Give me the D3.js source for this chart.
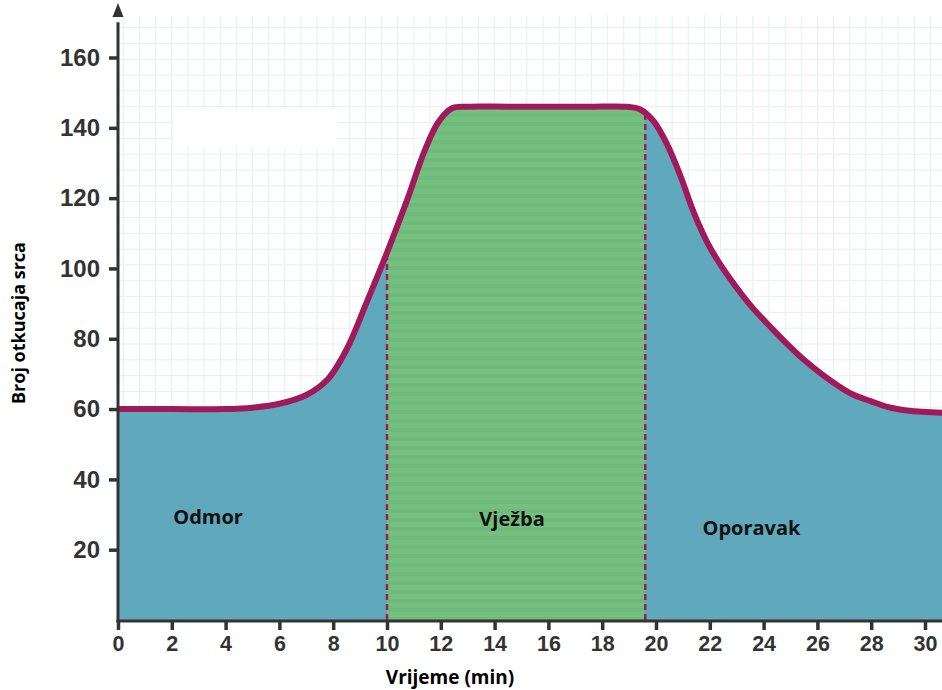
<!DOCTYPE html>
<html>
<head>
<meta charset="utf-8">
<script src="https://cdn.jsdelivr.net/npm/d3@7"></script>
<style>
  body { margin: 0; background: #fff; }
  svg text { font-family: "Liberation Sans", Arial, sans-serif; }
</style>
</head>
<body>
<div id="chart"></div>
<script>
// heart rate curve (minutes, beats per minute)
var time = [0, 2, 4, 5, 6, 7, 7.8, 8.5, 9.25, 10, 10.75, 11.4, 11.9, 12.4, 13, 14.5, 16, 17.5, 18.9, 19.4, 19.9, 20.4, 20.9, 21.4, 21.9, 22.4, 23.0, 23.6, 24.3, 24.9, 25.5, 26.1, 26.7, 27.3, 28.0, 28.6, 29.4, 30.7];
var bpm  = [60, 60, 60, 60.4, 61.5, 64, 68.5, 77, 90.5, 104.5, 119.5, 133.5, 141.5, 145.5, 146, 146, 146, 146, 146, 145.3, 142, 135.5, 126.5, 116, 107.5, 101, 94.5, 88.7, 83, 78.3, 74, 70.3, 67, 64.2, 62.2, 60.6, 59.5, 58.9];

// phases
var phaseEdges = [0, 10, 19.6, 30.7];
var phaseNames = ["Odmor", "Vježba", "Oporavak"];
var phaseLabelX = [3.35, 14.65, 23.55];
var phaseLabelY = [29.3, 28.7, 26.2];

var xTicks = d3.range(0, 31, 2);
var yTicks = d3.range(20, 161, 20);

var fullWidth = 942, fullHeight = 690;

var svg = d3.select("#chart")
            .append("svg")
            .attr("width", fullWidth)
            .attr("height", fullHeight);

var x = d3.scaleLinear().domain([0, 30]).range([118, 925]);
var y = d3.scaleLinear().domain([0, 160]).range([620, 57.5]);

var data = time.map(function(t, i) { return {t: t, v: bpm[i]}; });

var defs = svg.append("defs");

// faint stripes on the exercise block
var stripes = defs.append("pattern")
    .attr("id", "stripes")
    .attr("patternUnits", "userSpaceOnUse")
    .attr("width", 10).attr("height", 9);
stripes.append("rect").attr("width", 10).attr("height", 9).attr("fill", "#75c081");
stripes.append("rect").attr("y", 5).attr("width", 10).attr("height", 4).attr("fill", "#6fbb7b");

// background grid
var gridX = d3.range(0.2, 30.8, 0.6);
var gridY = d3.range(2, 172, 4.5);
var grid = svg.append("g").attr("class", "grid")
    .attr("stroke", "#e6eff2").attr("stroke-width", 1);
grid.selectAll("line.gx").data(gridX).enter().append("line")
    .attr("x1", function(d) { return x(d); }).attr("x2", function(d) { return x(d); })
    .attr("y1", y(172)).attr("y2", y(0));
grid.selectAll("line.gy").data(gridY).enter().append("line")
    .attr("x1", x(0)).attr("x2", fullWidth)
    .attr("y1", function(d) { return y(d); }).attr("y2", function(d) { return y(d); });

// erased label box
svg.append("rect")
    .attr("x", x(2.05)).attr("y", y(145.3))
    .attr("width", x(8.15) - x(2.05)).attr("height", y(134.5) - y(145.3))
    .attr("fill", "#fff");

var area = d3.area()
    .x(function(d) { return x(d.t); })
    .y0(y(0))
    .y1(function(d) { return y(d.v); })
    .curve(d3.curveCatmullRom.alpha(0.5));

var line = d3.line()
    .x(function(d) { return x(d.t); })
    .y(function(d) { return y(d.v); })
    .curve(d3.curveCatmullRom.alpha(0.5));

defs.append("clipPath").attr("id", "under")
    .append("path").attr("d", area(data));

defs.append("clipPath").attr("id", "exercise")
    .append("rect")
    .attr("x", x(phaseEdges[1])).attr("y", 0)
    .attr("width", x(phaseEdges[2]) - x(phaseEdges[1]))
    .attr("height", fullHeight);

svg.append("path")
    .attr("d", area(data))
    .attr("fill", "#60a8bb");

svg.append("path")
    .attr("d", area(data))
    .attr("clip-path", "url(#exercise)")
    .attr("fill", "url(#stripes)");

// dashed phase borders
svg.append("g").attr("clip-path", "url(#under)")
    .selectAll("line")
    .data(phaseEdges.slice(1, 3))
    .enter().append("line")
    .attr("x1", function(d) { return x(d); })
    .attr("x2", function(d) { return x(d); })
    .attr("y1", y(0)).attr("y2", y(170))
    .attr("stroke", "#9e1a5a")
    .attr("stroke-width", 2.5)
    .attr("stroke-dasharray", "6,4");

svg.append("path")
    .attr("d", line(data))
    .attr("fill", "none")
    .attr("stroke", "#a2195b")
    .attr("stroke-width", 6)
    .attr("stroke-linejoin", "round");

// phase labels
svg.append("g").selectAll("text")
    .data(phaseNames)
    .enter().append("text")
    .attr("x", function(d, i) { return x(phaseLabelX[i]); })
    .attr("y", function(d, i) { return y(phaseLabelY[i]); })
    .attr("text-anchor", "middle")
    .attr("dy", "0.35em")
    .style("font-family", "'Open Sans', sans-serif")
    .style("font-weight", "bold")
    .style("font-size", "20px")
    .attr("fill", "#111")
    .text(function(d) { return d; });

// axes
var xAxis = d3.axisBottom(x).tickValues(xTicks).tickSize(9).tickPadding(6);
var yAxis = d3.axisLeft(y).tickValues(yTicks).tickSize(9).tickPadding(9);

var gx = svg.append("g")
    .attr("class", "x-axis")
    .attr("transform", "translate(0," + (y(0) + 1) + ")")
    .call(xAxis);
gx.select(".domain").remove();
gx.append("line")
    .attr("x1", x(0) - 1.5).attr("x2", fullWidth)
    .attr("stroke", "#333").attr("stroke-width", 3);

var gy = svg.append("g")
    .attr("class", "y-axis")
    .attr("transform", "translate(" + x(0) + ",0)")
    .call(yAxis);
gy.select(".domain").remove();
gy.append("line")
    .attr("y1", y(0) + 2.5).attr("y2", y(170))
    .attr("stroke", "#333").attr("stroke-width", 3);
gy.append("path")
    .attr("d", "M0," + (y(175.5)) + "L-5.5," + (y(171.5)) + "L5.5," + (y(171.5)) + "Z")
    .attr("fill", "#333");

svg.selectAll(".tick line").attr("stroke", "#333").attr("stroke-width", 3.5);
gx.selectAll(".tick text")
    .attr("fill", "#333")
    .style("font-size", "21.5px")
    .style("font-weight", "bold");
gy.selectAll(".tick text")
    .attr("fill", "#333")
    .style("font-size", "24px")
    .style("font-weight", "bold");

svg.append("text")
    .attr("transform", "translate(25," + 323 + ") rotate(-90)")
    .attr("text-anchor", "middle")
    .style("font-family", "'Open Sans', sans-serif")
    .style("font-weight", "bold")
    .style("font-size", "18px")
    .attr("fill", "#000")
    .text("Broj otkucaja srca");

svg.append("text")
    .attr("x", 450)
    .attr("y", 684)
    .attr("text-anchor", "middle")
    .style("font-family", "'Open Sans', sans-serif")
    .style("font-weight", "bold")
    .style("font-size", "19px")
    .attr("fill", "#000")
    .text("Vrijeme (min)");
</script>
</body>
</html>
